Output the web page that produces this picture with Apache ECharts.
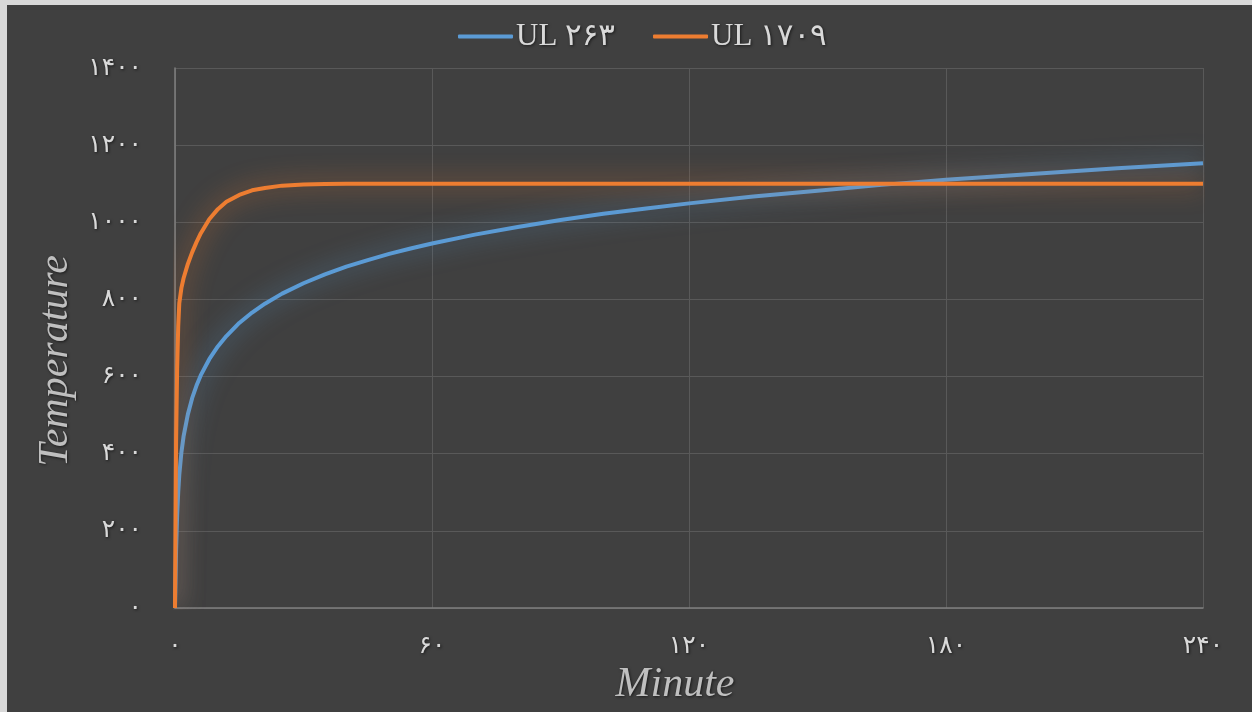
<!DOCTYPE html>
<html><head><meta charset="utf-8">
<script src="https://cdn.jsdelivr.net/npm/echarts@6/dist/echarts.min.js"></script>
<style>html,body{margin:0;padding:0;background:#404040;}#c{width:1252px;height:712px;}</style>
</head><body><div id="c"></div>
<script>
// Data
const minutes = [0, 0.25, 0.5, 0.75, 1, 1.5, 2, 3, 4, 5, 6, 8, 10, 12, 15, 18, 21, 25, 30, 35, 40, 45, 50, 55, 60, 70, 80, 90, 100, 110, 120, 135, 150, 165, 180, 200, 220, 240];
const ul263  = [0, 150, 240, 300, 345, 404, 445, 502, 544, 576, 603, 645, 678, 705, 739, 766, 789, 815, 842, 865, 885, 902, 918, 932, 945, 968, 988, 1006, 1022, 1036, 1049, 1067, 1082, 1097, 1110, 1125, 1140, 1153];
const ul1709 = [0, 430, 620, 730, 790, 830, 855, 892, 922, 948, 971, 1008, 1034, 1053, 1071, 1083, 1089, 1095, 1098, 1099, 1100, 1100, 1100, 1100, 1100, 1100, 1100, 1100, 1100, 1100, 1100, 1100, 1100, 1100, 1100, 1100, 1100, 1100];
const seriesNames = ['UL ۲۶۳', 'UL ۱۷۰۹'];
const xTickLabels = ['۰', '۶۰', '۱۲۰', '۱۸۰', '۲۴۰'];
const yTickLabels = ['۰', '۲۰۰', '۴۰۰', '۶۰۰', '۸۰۰', '۱۰۰۰', '۱۲۰۰', '۱۴۰۰'];

const font = "'Liberation Serif', 'DejaVu Sans', serif";
const textShadow = {textShadowColor: 'rgba(0,0,0,0.6)', textShadowBlur: 3, textShadowOffsetX: 1, textShadowOffsetY: 1};
const chart = echarts.init(document.getElementById('c'));
chart.setOption({
  backgroundColor: '#404040',
  animation: false,
  graphic: [
    {type: 'rect', left: 0, top: 0, shape: {width: 1252, height: 5}, style: {fill: '#d9d9d9'}},
    {type: 'rect', left: 0, top: 0, shape: {width: 7, height: 712}, style: {fill: '#d9d9d9'}}
  ],
  legend: {
    top: 16, left: 453, itemWidth: 55, itemHeight: 4, itemGap: 38,
    icon: 'roundRect',
    textStyle: Object.assign({color: '#d9d9d9', fontSize: 31, fontFamily: font, padding: [0, 0, 0, -2]}, textShadow),
    data: seriesNames
  },
  grid: {left: 175, right: 49, top: 68, bottom: 104, containLabel: false, outerBoundsMode: 'none'},
  xAxis: {
    type: 'value', min: 0, max: 240, interval: 60,
    name: 'Minute', nameLocation: 'middle', nameGap: 56,
    nameTextStyle: Object.assign({color: '#bfbfbf', fontSize: 42, fontStyle: 'italic', fontFamily: font, padding: [0, 28, 0, 0]}, textShadow),
    axisLine: {lineStyle: {color: '#7f7f7f', width: 1.5}},
    axisTick: {show: false},
    axisLabel: Object.assign({color: '#d9d9d9', fontSize: 25, fontFamily: font, margin: 26,
      formatter: v => xTickLabels[Math.round(v / 60)]}, textShadow),
    splitLine: {show: true, lineStyle: {color: '#595959', width: 1}}
  },
  yAxis: {
    type: 'value', min: 0, max: 1400, interval: 200,
    name: 'Temperature', nameLocation: 'middle', nameGap: 96, nameRotate: 90,
    nameTextStyle: Object.assign({color: '#bfbfbf', fontSize: 42, fontStyle: 'italic', fontFamily: font, padding: [0, 46, 0, 0]}, textShadow),
    axisLine: {show: true, lineStyle: {color: '#7f7f7f', width: 1.5}},
    axisTick: {show: false},
    axisLabel: Object.assign({color: '#d9d9d9', fontSize: 25, fontFamily: font, margin: 33,
      formatter: v => yTickLabels[Math.round(v / 200)]}, textShadow),
    splitLine: {show: true, lineStyle: {color: '#595959', width: 1}}
  },
  series: [
    {name: seriesNames[0], type: 'line', showSymbol: false, smooth: false,
     data: minutes.map((t, i) => [t, ul263[i]]),
     itemStyle: {color: '#5b9bd5'},
     lineStyle: {color: '#5b9bd5', width: 4, shadowColor: 'rgba(91,155,213,0.8)', shadowBlur: 24}},
    {name: seriesNames[1], type: 'line', showSymbol: false, smooth: false,
     data: minutes.map((t, i) => [t, ul1709[i]]),
     itemStyle: {color: '#ed7d31'},
     lineStyle: {color: '#ed7d31', width: 4, shadowColor: 'rgba(237,125,49,0.8)', shadowBlur: 24}}
  ]
});
</script></body></html>
